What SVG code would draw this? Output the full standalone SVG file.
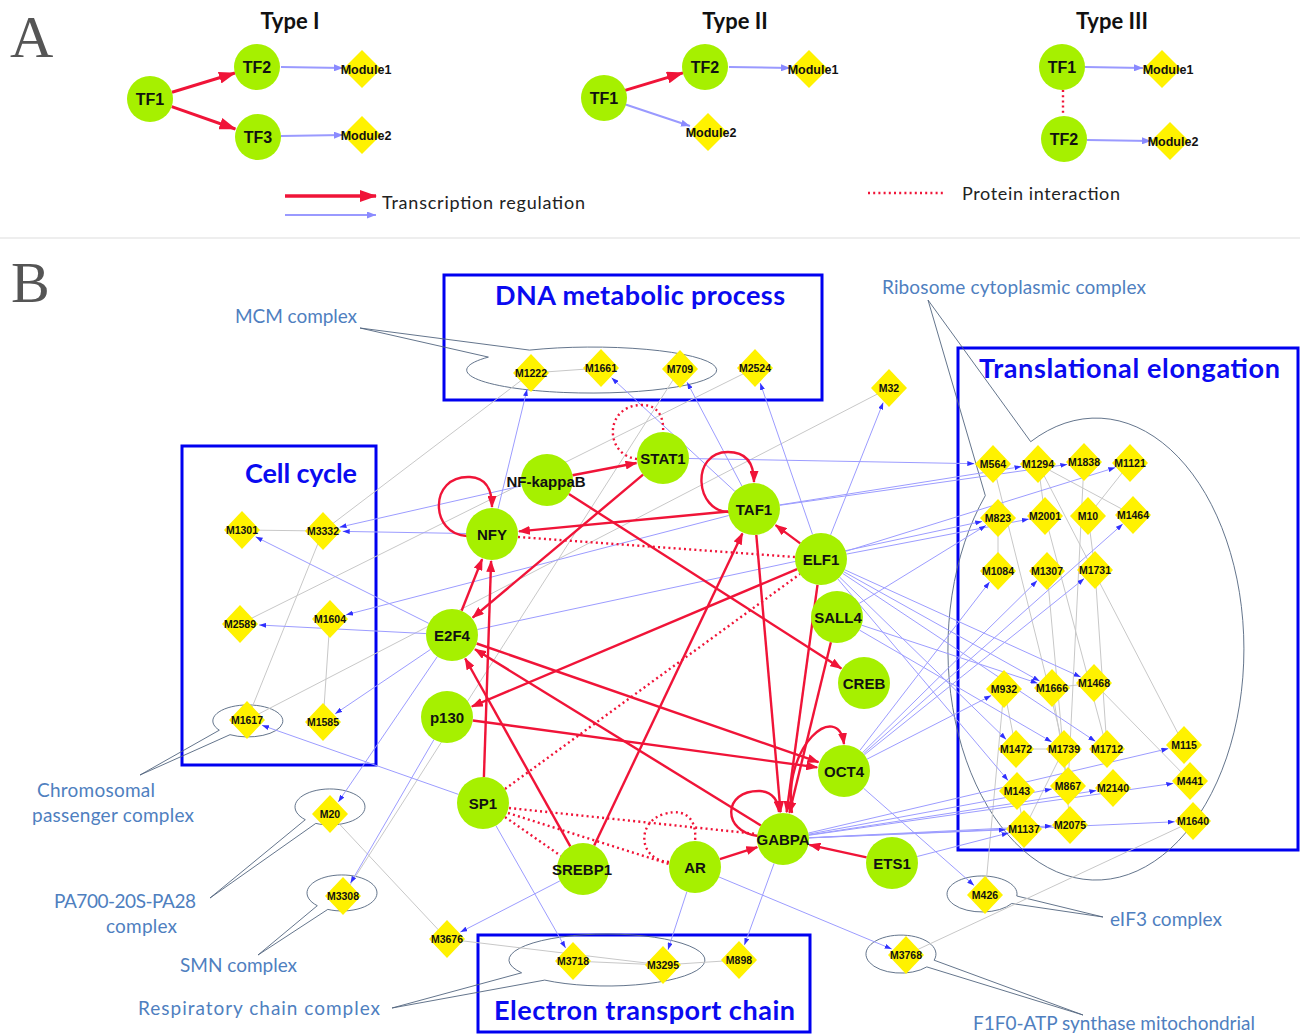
<svg xmlns="http://www.w3.org/2000/svg" xmlns:xlink="http://www.w3.org/1999/xlink" width="1300" height="1035" viewBox="0 0 1300 1035">
<style>
.tfn circle{fill:#a6f000}
.tfn text{font:bold 15px 'Liberation Sans',Arial,sans-serif;text-anchor:middle;fill:#111}
.tfa text{font:bold 16px 'Liberation Sans',Arial,sans-serif;text-anchor:middle;fill:#111}
.mdn use{fill:#fff200}
.mdn text{font:bold 10.5px 'Liberation Sans',Arial,sans-serif;text-anchor:middle;fill:#111}
.mda text{font:bold 12.5px 'Liberation Sans',Arial,sans-serif;text-anchor:middle;fill:#111}
.red{stroke:#f01438;stroke-width:2.4;fill:none;marker-end:url(#ra)}
.redA{stroke:#f01438;stroke-width:3;fill:none;marker-end:url(#raA)}
.pi{stroke:#f01438;stroke-width:2.4;fill:none;stroke-dasharray:2 3.2}
.blu{stroke:#9c9cff;stroke-width:1;fill:none;marker-end:url(#ba)}
.bluA{stroke:#9a9aff;stroke-width:2;fill:none;marker-end:url(#baA)}
.gry{stroke:#c8c8c8;stroke-width:1;fill:none}
.box{fill:none;stroke:#0000f0;stroke-width:3}
.bt{font:bold 27px Lato,'Open Sans',sans-serif;fill:#0a0af0}
.cl{font:19px Lato,'Open Sans',sans-serif;fill:#4f7fbf}
.co{fill:none;stroke:#52657f;stroke-width:0.9}
.ty{font:bold 22px Lato,'Open Sans',sans-serif;fill:#111;text-anchor:middle}
.lg{font:18px Lato,'Open Sans',sans-serif;fill:#222}
.big{font-family:'Liberation Serif',serif;fill:#555}
</style>
<defs>
<marker id="ra" markerUnits="userSpaceOnUse" markerWidth="12" markerHeight="9" refX="11" refY="4.5" orient="auto"><path d="M0,0 L12,4.5 L0,9 Z" fill="#f01438"/></marker>
<marker id="raA" markerUnits="userSpaceOnUse" markerWidth="17" markerHeight="12" refX="16" refY="6" orient="auto"><path d="M0,0 L17,6 L0,12 Z" fill="#f01438"/></marker>
<marker id="ba" markerUnits="userSpaceOnUse" markerWidth="7" markerHeight="5" refX="7" refY="2.5" orient="auto"><path d="M0,0 L7,2.5 L0,5 Z" fill="#3030ff"/></marker>
<marker id="baA" markerUnits="userSpaceOnUse" markerWidth="9" markerHeight="7" refX="9" refY="3.5" orient="auto"><path d="M0,0 L9,3.5 L0,7 Z" fill="#8a8aff"/></marker>
<polygon id="dm" points="0,-19 18,0 0,19 -18,0"/>
<polygon id="dmA" points="0,-19 19,0 0,19 -19,0"/>
</defs>
<rect width="1300" height="1035" fill="#fff"/>

<!-- Panel A -->
<text class="big" x="10" y="57" font-size="60">A</text>
<text class="ty" x="290" y="29">Type I</text>
<text class="ty" x="735" y="29">Type II</text>
<text class="ty" x="1112" y="29">Type III</text>

<g id="connectors-A">
<path class="redA" d="M172,92.3 L235,73"/>
<path class="redA" d="M171.7,106.6 L235.4,129"/>
<path class="bluA" d="M281,67 L343,68"/>
<path class="bluA" d="M281,136 L343,135"/>
<path class="redA" d="M625,90.4 L683,72.9"/>
<path class="bluA" d="M624.8,104.3 L690,126"/>
<path class="bluA" d="M729,67 L790,68"/>
<path class="pi" d="M1063,90 L1063,115"/>
<path class="bluA" d="M1085,67 L1143,68"/>
<path class="bluA" d="M1087,140 L1151,141"/>
</g>

<g id="a1-TF1" class="tfn tfa"><circle cx="150" cy="99" r="23"/><text x="150" y="105">TF1</text></g>
<g id="a1-TF2" class="tfn tfa"><circle cx="257" cy="67" r="23"/><text x="257" y="73">TF2</text></g>
<g id="a1-TF3" class="tfn tfa"><circle cx="258" cy="137" r="23"/><text x="258" y="143">TF3</text></g>
<g id="a1-M1" class="mdn mda"><use xlink:href="#dmA" x="362" y="69"/><text x="366" y="74">Module1</text></g>
<g id="a1-M2" class="mdn mda"><use xlink:href="#dmA" x="362" y="135"/><text x="366" y="140">Module2</text></g>

<g id="a2-TF1" class="tfn tfa"><circle cx="604" cy="98" r="23"/><text x="604" y="104">TF1</text></g>
<g id="a2-TF2" class="tfn tfa"><circle cx="705" cy="67" r="23"/><text x="705" y="73">TF2</text></g>
<g id="a2-M1" class="mdn mda"><use xlink:href="#dmA" x="809" y="69"/><text x="813" y="74">Module1</text></g>
<g id="a2-M2" class="mdn mda"><use xlink:href="#dmA" x="708" y="132"/><text x="711" y="137">Module2</text></g>

<g id="a3-TF1" class="tfn tfa"><circle cx="1062" cy="67" r="23"/><text x="1062" y="73">TF1</text></g>
<g id="a3-TF2" class="tfn tfa"><circle cx="1064" cy="139" r="23"/><text x="1064" y="145">TF2</text></g>
<g id="a3-M1" class="mdn mda"><use xlink:href="#dmA" x="1162" y="69"/><text x="1168" y="74">Module1</text></g>
<g id="a3-M2" class="mdn mda"><use xlink:href="#dmA" x="1170" y="141"/><text x="1173" y="146">Module2</text></g>

<g id="legend">
<path class="redA" d="M285,196 L376,196" style="stroke-width:3.5"/>
<path class="bluA" d="M285,215 L376,215"/>
<text class="lg" x="382" y="209" textLength="203">Transcription regulation</text>
<path class="pi" d="M868,193 L946,193" style="stroke-width:2.6"/>
<text class="lg" x="962" y="200" textLength="158">Protein interaction</text>
</g>
<line x1="0" y1="238" x2="1300" y2="238" stroke="#dedede" stroke-width="1.2"/>

<!-- Panel B -->
<text class="big" x="11" y="302" font-size="58">B</text>

<g id="boxes">
<rect class="box" x="444" y="275" width="378" height="125"/>
<rect class="box" x="182" y="446" width="194" height="319"/>
<rect class="box" x="958" y="348" width="340" height="502"/>
<rect class="box" x="478" y="935" width="332" height="97"/>
<text class="bt" x="495" y="305" textLength="290">DNA metabolic process</text>
<text class="bt" x="245" y="483" textLength="112">Cell cycle</text>
<text class="bt" x="979" y="378" textLength="301">Translational elongation</text>
<text class="bt" x="494" y="1020" textLength="301">Electron transport chain</text>
</g>

<g id="callouts">
<path class="co" d="M488.4,357.1 L360,328 L529.5,350.1 A125,23 0 1 1 488.4,357.1"/>
<path class="co" d="M985.3,495.6 L928,300 L1030.7,441.7 A148,231 0 1 1 985.3,495.6"/>
<path class="co" d="M230,734.7 L140,775 L219.3,730.2 A35,16 0 1 1 230,734.7"/>
<path class="co" d="M315.8,823.4 L210,898 L305.3,819.7 A35,18 0 1 1 315.8,823.4"/>
<path class="co" d="M327.8,909.4 L258,955 L317.3,905.7 A35,18 0 1 1 327.8,909.4"/>
<path class="co" d="M544.7,980.1 L392,1008 L521.6,972.8 A98,26 0 1 1 544.7,980.1"/>
<path class="co" d="M1016.8,896 L1103,917 L1011.7,903.5 A35,18 0 1 1 1016.8,896"/>
<path class="co" d="M934.1,960.2 L1083,1015 L926.8,966.9 A35,19 0 1 1 934.1,960.2"/>
<text class="cl" x="235" y="323" textLength="122">MCM complex</text>
<text class="cl" x="882" y="294" textLength="264">Ribosome cytoplasmic complex</text>
<text class="cl" x="37" y="797" textLength="118">Chromosomal</text>
<text class="cl" x="32" y="822" textLength="162">passenger complex</text>
<text class="cl" x="54" y="908" textLength="142">PA700-20S-PA28</text>
<text class="cl" x="106" y="933" textLength="71">complex</text>
<text class="cl" x="180" y="972" textLength="117">SMN complex</text>
<text class="cl" x="138" y="1015" textLength="242">Respiratory chain complex</text>
<text class="cl" x="1110" y="926" textLength="112">eIF3 complex</text>
<text class="cl" x="973" y="1030" textLength="282">F1F0-ATP synthase mitochondrial</text>
</g>

<g id="connectors">
<g id="module-links">
<path class="gry" d="M531,373 L601,368"/>
<path class="gry" d="M531,373 L323,531"/>
<path class="gry" d="M680,369 L343,896"/>
<path class="gry" d="M755,368 L240,624"/>
<path class="gry" d="M889,388 L247,720"/>
<path class="gry" d="M323,531 L247,720"/>
<path class="gry" d="M242,530 L323,531"/>
<path class="gry" d="M330,619 L323,722"/>
<path class="gry" d="M330,814 L447,939"/>
<path class="gry" d="M447,939 L663,965"/>
<path class="gry" d="M573,961 L663,965"/>
<path class="gry" d="M663,965 L739,960"/>
<path class="gry" d="M906,955 L1193,821"/>
<path class="gry" d="M985,895 L1004,689"/>
<path class="gry" d="M1038,464 L1045,516"/>
<path class="gry" d="M1038,464 L1133,515"/>
<path class="gry" d="M993,464 L1064,749"/>
<path class="gry" d="M1084,462 L1068,786"/>
<path class="gry" d="M1130,463 L1088,516"/>
<path class="gry" d="M1088,516 L1095,570"/>
<path class="gry" d="M998,518 L998,571"/>
<path class="gry" d="M1045,516 L1107,749"/>
<path class="gry" d="M1094,683 L1190,781"/>
<path class="gry" d="M1004,689 L1016,749"/>
<path class="gry" d="M1016,749 L1064,749"/>
<path class="gry" d="M1052,688 L1094,683"/>
<path class="gry" d="M1095,570 L1107,749"/>
<path class="gry" d="M1017,791 L1024,829"/>
<path class="gry" d="M1047,571 L1070,825"/>
<path class="gry" d="M1038,464 L1184,745"/>
<path class="gry" d="M1052,688 L1068,786"/>
<path class="gry" d="M1064,749 L1024,829"/>
</g>
<g id="tf-module-links">
<path class="blu" d="M498.1,508.7 L527.1,389.2"/>
<path class="blu" d="M466,533.5 L342.7,531.4"/>
<path class="blu" d="M521.6,485.8 L339.5,527.2"/>
<path class="blu" d="M428.8,623.4 L255.6,536.8"/>
<path class="blu" d="M426,633.6 L259.1,625"/>
<path class="blu" d="M430.4,649.5 L335.2,713.8"/>
<path class="blu" d="M437.4,656.5 L338.3,801.9"/>
<path class="blu" d="M728.8,515.5 L346.1,614.8"/>
<path class="blu" d="M458.5,794.4 L262,725.3"/>
<path class="blu" d="M434,739.5 L350.5,883.1"/>
<path class="blu" d="M689,458.5 L974.3,463.7"/>
<path class="blu" d="M779.7,504.9 L1021.5,466.6"/>
<path class="blu" d="M779.7,505.3 L1067.3,464.4"/>
<path class="blu" d="M845.8,551.3 L1115.3,467.6"/>
<path class="blu" d="M846.5,554.1 L1028.9,519.1"/>
<path class="blu" d="M859.2,603.4 L986,525.4"/>
<path class="blu" d="M859.9,750.4 L989.6,581.9"/>
<path class="blu" d="M862.5,752.7 L1037.2,580.6"/>
<path class="blu" d="M864.3,754.8 L1084.2,578.6"/>
<path class="blu" d="M863.5,753.8 L1122.7,524.1"/>
<path class="blu" d="M830.6,534.8 L883.2,402.5"/>
<path class="blu" d="M812.5,534.4 L760.2,383"/>
<path class="blu" d="M741.9,486 L687.1,382.3"/>
<path class="blu" d="M734.9,491.4 L611.6,377.8"/>
<path class="blu" d="M843.7,571.7 L1039.6,681.1"/>
<path class="blu" d="M861.7,625.2 L1037.6,683.2"/>
<path class="blu" d="M844.7,569.8 L1080.7,677"/>
<path class="blu" d="M839.6,577.1 L1006.2,739.4"/>
<path class="blu" d="M859.5,630.1 L1051.7,741.9"/>
<path class="blu" d="M842.7,573.4 L1095.3,741.3"/>
<path class="blu" d="M837.8,578.9 L1008.1,780.5"/>
<path class="blu" d="M867.1,759.1 L991.2,695.6"/>
<path class="blu" d="M808.3,833.1 L1168.4,748.6"/>
<path class="blu" d="M808.7,835.3 L1173.3,783.4"/>
<path class="blu" d="M809,837.9 L1174.7,821.8"/>
<path class="blu" d="M808.6,834.2 L1051.9,789"/>
<path class="blu" d="M808.7,835 L1096.4,790.6"/>
<path class="blu" d="M809,837.7 L1051.8,825.9"/>
<path class="blu" d="M809,837.9 L1005.7,829.8"/>
<path class="blu" d="M917.2,856.5 L1008.7,832.9"/>
<path class="blu" d="M863.5,788.2 L974.1,885.4"/>
<path class="blu" d="M719,877 L891.7,949"/>
<path class="blu" d="M686.9,891.7 L668,949.7"/>
<path class="blu" d="M774.1,863.4 L744.4,945.1"/>
<path class="blu" d="M495.9,825.6 L565.6,948"/>
<path class="blu" d="M559.9,880.9 L460.4,932.1"/>
<path class="blu" d="M477.4,629.5 L982.2,521.4"/>
</g>
<g id="protein-interactions">
<path class="pi" d="M637,459 C604,455 604,405 642,405 C660,405 664,420 663,432"/>
<path class="pi" d="M518,537 L795,557"/>
<path class="pi" d="M505,789 L800,574"/>
<path class="pi" d="M509,808 L757,834"/>
<path class="pi" d="M505,817 L561,856"/>
<path class="pi" d="M508,813 L669,864"/>
<path class="pi" d="M669,862 C638,860 636,822 664,814 C688,807 697,822 695,841"/>
</g>
<g id="regulation">
<path class="red" d="M572.5,475.2 L636.5,463"/>
<path class="red" d="M568.9,494 L841.3,668.4"/>
<path class="red" d="M643.1,474.7 L472.7,617.6"/>
<path class="red" d="M728.1,511.5 L518.9,531.4"/>
<path class="red" d="M756.3,534.9 L780.6,812.1"/>
<path class="red" d="M800.2,543.4 L775.6,525.1"/>
<path class="red" d="M797.1,569.1 L471.9,706.5"/>
<path class="red" d="M817.5,584.8 L786.6,812.2"/>
<path class="red" d="M830.9,642.3 L789.4,812.8"/>
<path class="red" d="M461.6,610.8 L482.1,559.1"/>
<path class="red" d="M483.9,777 L491.1,561"/>
<path class="red" d="M476.6,643.5 L818.5,762.1"/>
<path class="red" d="M760.9,825.4 L475,649.2"/>
<path class="red" d="M570.3,846.3 L465.2,658.5"/>
<path class="red" d="M594.2,845.5 L742.4,533.4"/>
<path class="red" d="M472.8,720.5 L817.2,767.4"/>
<path class="red" d="M719.8,859.1 L757.3,847.2"/>
<path class="red" d="M866.6,857.4 L809.4,844.8"/>
<path class="red" d="M792,813 C782,745 838,700 844,744"/>
<path class="red" d="M758,836 C722,832 722,790 760,791 C772,792 778,800 779,812"/>
<path class="red" d="M467,536 C430,535 428,475 470,477 C487,478 492,490 492,507"/>
<path class="red" d="M729,512 C695,512 690,452 728,452 C748,452 754,466 754,482"/>
</g>
</g>

<g id="modules">
<g id="m-M1222" class="mdn"><use xlink:href="#dm" x="531" y="373"/><text x="531" y="377">M1222</text></g>
<g id="m-M1661" class="mdn"><use xlink:href="#dm" x="601" y="368"/><text x="601" y="372">M1661</text></g>
<g id="m-M709" class="mdn"><use xlink:href="#dm" x="680" y="369"/><text x="680" y="373">M709</text></g>
<g id="m-M2524" class="mdn"><use xlink:href="#dm" x="755" y="368"/><text x="755" y="372">M2524</text></g>
<g id="m-M32" class="mdn"><use xlink:href="#dm" x="889" y="388"/><text x="889" y="392">M32</text></g>
<g id="m-M1301" class="mdn"><use xlink:href="#dm" x="242" y="530"/><text x="242" y="534">M1301</text></g>
<g id="m-M3332" class="mdn"><use xlink:href="#dm" x="323" y="531"/><text x="323" y="535">M3332</text></g>
<g id="m-M2589" class="mdn"><use xlink:href="#dm" x="240" y="624"/><text x="240" y="628">M2589</text></g>
<g id="m-M1604" class="mdn"><use xlink:href="#dm" x="330" y="619"/><text x="330" y="623">M1604</text></g>
<g id="m-M1617" class="mdn"><use xlink:href="#dm" x="247" y="720"/><text x="247" y="724">M1617</text></g>
<g id="m-M1585" class="mdn"><use xlink:href="#dm" x="323" y="722"/><text x="323" y="726">M1585</text></g>
<g id="m-M20" class="mdn"><use xlink:href="#dm" x="330" y="814"/><text x="330" y="818">M20</text></g>
<g id="m-M3308" class="mdn"><use xlink:href="#dm" x="343" y="896"/><text x="343" y="900">M3308</text></g>
<g id="m-M3676" class="mdn"><use xlink:href="#dm" x="447" y="939"/><text x="447" y="943">M3676</text></g>
<g id="m-M3718" class="mdn"><use xlink:href="#dm" x="573" y="961"/><text x="573" y="965">M3718</text></g>
<g id="m-M3295" class="mdn"><use xlink:href="#dm" x="663" y="965"/><text x="663" y="969">M3295</text></g>
<g id="m-M898" class="mdn"><use xlink:href="#dm" x="739" y="960"/><text x="739" y="964">M898</text></g>
<g id="m-M426" class="mdn"><use xlink:href="#dm" x="985" y="895"/><text x="985" y="899">M426</text></g>
<g id="m-M3768" class="mdn"><use xlink:href="#dm" x="906" y="955"/><text x="906" y="959">M3768</text></g>
<g id="m-M564" class="mdn"><use xlink:href="#dm" x="993" y="464"/><text x="993" y="468">M564</text></g>
<g id="m-M1294" class="mdn"><use xlink:href="#dm" x="1038" y="464"/><text x="1038" y="468">M1294</text></g>
<g id="m-M1838" class="mdn"><use xlink:href="#dm" x="1084" y="462"/><text x="1084" y="466">M1838</text></g>
<g id="m-M1121" class="mdn"><use xlink:href="#dm" x="1130" y="463"/><text x="1130" y="467">M1121</text></g>
<g id="m-M823" class="mdn"><use xlink:href="#dm" x="998" y="518"/><text x="998" y="522">M823</text></g>
<g id="m-M2001" class="mdn"><use xlink:href="#dm" x="1045" y="516"/><text x="1045" y="520">M2001</text></g>
<g id="m-M10" class="mdn"><use xlink:href="#dm" x="1088" y="516"/><text x="1088" y="520">M10</text></g>
<g id="m-M1464" class="mdn"><use xlink:href="#dm" x="1133" y="515"/><text x="1133" y="519">M1464</text></g>
<g id="m-M1084" class="mdn"><use xlink:href="#dm" x="998" y="571"/><text x="998" y="575">M1084</text></g>
<g id="m-M1307" class="mdn"><use xlink:href="#dm" x="1047" y="571"/><text x="1047" y="575">M1307</text></g>
<g id="m-M1731" class="mdn"><use xlink:href="#dm" x="1095" y="570"/><text x="1095" y="574">M1731</text></g>
<g id="m-M932" class="mdn"><use xlink:href="#dm" x="1004" y="689"/><text x="1004" y="693">M932</text></g>
<g id="m-M1666" class="mdn"><use xlink:href="#dm" x="1052" y="688"/><text x="1052" y="692">M1666</text></g>
<g id="m-M1468" class="mdn"><use xlink:href="#dm" x="1094" y="683"/><text x="1094" y="687">M1468</text></g>
<g id="m-M1472" class="mdn"><use xlink:href="#dm" x="1016" y="749"/><text x="1016" y="753">M1472</text></g>
<g id="m-M1739" class="mdn"><use xlink:href="#dm" x="1064" y="749"/><text x="1064" y="753">M1739</text></g>
<g id="m-M1712" class="mdn"><use xlink:href="#dm" x="1107" y="749"/><text x="1107" y="753">M1712</text></g>
<g id="m-M115" class="mdn"><use xlink:href="#dm" x="1184" y="745"/><text x="1184" y="749">M115</text></g>
<g id="m-M143" class="mdn"><use xlink:href="#dm" x="1017" y="791"/><text x="1017" y="795">M143</text></g>
<g id="m-M867" class="mdn"><use xlink:href="#dm" x="1068" y="786"/><text x="1068" y="790">M867</text></g>
<g id="m-M2140" class="mdn"><use xlink:href="#dm" x="1113" y="788"/><text x="1113" y="792">M2140</text></g>
<g id="m-M441" class="mdn"><use xlink:href="#dm" x="1190" y="781"/><text x="1190" y="785">M441</text></g>
<g id="m-M1137" class="mdn"><use xlink:href="#dm" x="1024" y="829"/><text x="1024" y="833">M1137</text></g>
<g id="m-M2075" class="mdn"><use xlink:href="#dm" x="1070" y="825"/><text x="1070" y="829">M2075</text></g>
<g id="m-M1640" class="mdn"><use xlink:href="#dm" x="1193" y="821"/><text x="1193" y="825">M1640</text></g>
</g>

<g id="tfs">
<g id="tf-NFkappaB" class="tfn"><circle cx="547" cy="480" r="26"/><text x="546" y="487">NF-kappaB</text></g>
<g id="tf-STAT1" class="tfn"><circle cx="663" cy="458" r="26"/><text x="663" y="463.5">STAT1</text></g>
<g id="tf-NFY" class="tfn"><circle cx="492" cy="534" r="26"/><text x="492" y="539.5">NFY</text></g>
<g id="tf-TAF1" class="tfn"><circle cx="754" cy="509" r="26"/><text x="754" y="514.5">TAF1</text></g>
<g id="tf-ELF1" class="tfn"><circle cx="821" cy="559" r="26"/><text x="821" y="564.5">ELF1</text></g>
<g id="tf-SALL4" class="tfn"><circle cx="837" cy="617" r="26"/><text x="838" y="622.5">SALL4</text></g>
<g id="tf-CREB" class="tfn"><circle cx="864" cy="683" r="26"/><text x="864" y="688.5">CREB</text></g>
<g id="tf-OCT4" class="tfn"><circle cx="844" cy="771" r="26"/><text x="844" y="776.5">OCT4</text></g>
<g id="tf-E2F4" class="tfn"><circle cx="452" cy="635" r="26"/><text x="452" y="640.5">E2F4</text></g>
<g id="tf-p130" class="tfn"><circle cx="447" cy="717" r="26"/><text x="447" y="722.5">p130</text></g>
<g id="tf-SP1" class="tfn"><circle cx="483" cy="803" r="26"/><text x="483" y="808.5">SP1</text></g>
<g id="tf-SREBP1" class="tfn"><circle cx="583" cy="869" r="26"/><text x="582" y="874.5">SREBP1</text></g>
<g id="tf-AR" class="tfn"><circle cx="695" cy="867" r="26"/><text x="695" y="872.5">AR</text></g>
<g id="tf-GABPA" class="tfn"><circle cx="783" cy="839" r="26"/><text x="783" y="844.5">GABPA</text></g>
<g id="tf-ETS1" class="tfn"><circle cx="892" cy="863" r="26"/><text x="892" y="868.5">ETS1</text></g>
</g>
</svg>
